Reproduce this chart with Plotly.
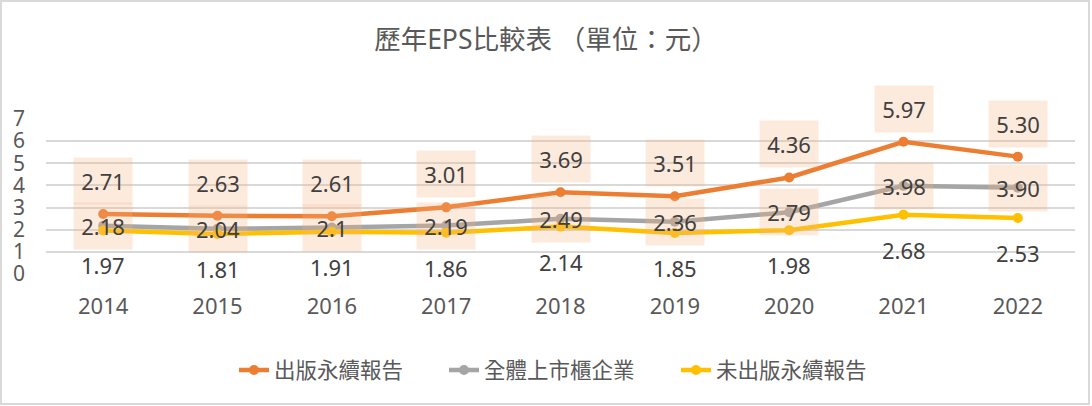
import plotly.graph_objects as go

years = ["2014", "2015", "2016", "2017", "2018", "2019", "2020", "2021", "2022"]
published = [2.71, 2.63, 2.61, 3.01, 3.69, 3.51, 4.36, 5.97, 5.30]
all_listed = [2.18, 2.04, 2.10, 2.19, 2.49, 2.36, 2.79, 3.98, 3.90]
unpublished = [1.97, 1.81, 1.91, 1.86, 2.14, 1.85, 1.98, 2.68, 2.53]
published_labels = ["2.71", "2.63", "2.61", "3.01", "3.69", "3.51", "4.36", "5.97", "5.30"]
all_labels = ["2.18", "2.04", "2.1", "2.19", "2.49", "2.36", "2.79", "3.98", "3.90"]
unpublished_labels = ["1.97", "1.81", "1.91", "1.86", "2.14", "1.85", "1.98", "2.68", "2.53"]
series_names = ["出版永續報告", "全體上市櫃企業", "未出版永續報告"]
y_ticks = [0, 1, 2, 3, 4, 5, 6, 7]
title_text = "歷年EPS比較表 （單位：元）"

FONT = "Noto Sans, Noto Sans CJK TC, sans-serif"
colors = ["#ED7D31", "#A5A5A5", "#FFC000"]

W, H = 1092, 406
L, R, T, B = 46, 17, 119, 132
pw = W - L - R
ph = H - T - B


def px_x(p):
    return (p - L) / pw


def px_y(p):
    return (H - B - p) / ph


legend_ids = ["legend", "legend2", "legend3"]
legend_text_x = [276, 486, 718]

fig = go.Figure()
for name, vals, col, lid in zip(series_names, [published, all_listed, unpublished], colors, legend_ids):
    fig.add_trace(go.Scatter(
        x=years, y=vals, name=name, mode="lines+markers",
        line=dict(color=col, width=4.5),
        marker=dict(color=col, size=10),
        hoverinfo="skip", legend=lid,
    ))

box_bg = "rgba(244,177,131,0.27)"
label_font = dict(family=FONT, size=22, color="#404040")
annotations = []
for i, (v, t) in enumerate(zip(published, published_labels)):
    annotations.append(dict(x=i, y=v, xref="x", yref="y", text=t, showarrow=False, yshift=33,
                            width=56, height=44, bgcolor=box_bg, font=label_font))
for i, (v, t) in enumerate(zip(all_listed, all_labels)):
    annotations.append(dict(x=i, y=v, xref="x", yref="y", text=t, showarrow=False, yshift=0,
                            width=56, height=44, bgcolor=box_bg, font=label_font))
for i, (v, t) in enumerate(zip(unpublished, unpublished_labels)):
    annotations.append(dict(x=i, y=v, xref="x", yref="y", text=t, showarrow=False, yshift=-35,
                            font=label_font))

legend_common = dict(orientation="h", yanchor="middle", xanchor="left",
                     font=dict(family=FONT, size=21.5, color="#595959"),
                     itemclick=False, itemdoubleclick=False, bgcolor="rgba(0,0,0,0)")
layout_legends = {}
for lid, tx in zip(legend_ids, legend_text_x):
    layout_legends[lid] = dict(legend_common, x=px_x(tx - 42), y=px_y(370))

fig.update_layout(
    width=W, height=H,
    margin=dict(l=L, r=R, t=T, b=B),
    paper_bgcolor="white", plot_bgcolor="white",
    font=dict(family=FONT, color="#595959"),
    title=dict(text=title_text, x=0.5, xanchor="center", y=1 - 40 / H, yanchor="middle",
               yref="container", font=dict(family=FONT, size=26.5, color="#595959")),
    xaxis=dict(type="category", range=[-0.5, 8.5], showgrid=False, zeroline=False,
               showline=False, ticks="", ticklabelstandoff=17,
               tickfont=dict(family=FONT, size=22, color="#595959")),
    yaxis=dict(range=[0, 7], tickvals=y_ticks, showgrid=True, gridcolor="#D9D9D9",
               gridwidth=1.5, zeroline=False, showline=False, ticks="",
               ticklabelstandoff=20,
               tickfont=dict(family=FONT, size=21, color="#595959")),
    annotations=annotations,
    shapes=[dict(type="rect", xref="paper", yref="paper",
                 x0=px_x(1), x1=px_x(1089), y0=px_y(404), y1=px_y(1),
                 line=dict(color="#D9D9D9", width=2), fillcolor="rgba(0,0,0,0)",
                 layer="below")],
    showlegend=True,
    **layout_legends,
)

fig.write_html("out.html")
